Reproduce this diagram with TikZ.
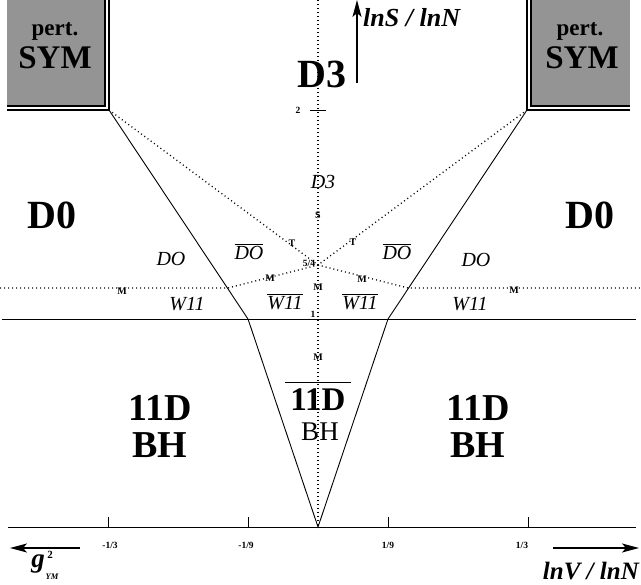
\documentclass[tikz,border=0pt]{standalone}
\usepackage{fontspec}
\setmainfont{Liberation Serif}
\usetikzlibrary{arrows.meta}
\newcommand\fs[1]{\fontsize{#1}{#1}\selectfont}
\newcommand\ovl[3]{\vbox{\hrule height #1\kern #2\hbox{#3}}}
\begin{document}
\begin{tikzpicture}[x=1pt,y=-1pt,
  sline/.style={line width=0.9pt},
  dots/.style={line width=1.3pt, dash pattern=on 1pt off 3pt},
  bigb/.style={font=\fs{40}\bfseries, inner sep=0},
  bhb/.style={font=\fs{38}\bfseries, inner sep=0},
  itl/.style={font=\fs{20}\itshape, inner sep=0},
  tiny/.style={font=\fs{10}\bfseries, inner sep=0},
  ticklab/.style={font=\fs{9.5}\bfseries, inner sep=0},
  symbox/.style={fill=black!42, draw=none},
  axarrow/.style={line width=1.1pt, -{Stealth[length=17pt,width=9pt,inset=4pt]}},
  axlab/.style={font=\fs{25}\bfseries\itshape, inner sep=0}]
\useasboundingbox (0,0) rectangle (641,585);
% key points
\coordinate (top) at (318,0);
\coordinate (cl) at (109,110);
\coordinate (cr) at (527,110);
\coordinate (p) at (318,265);
\coordinate (ml) at (228,288);
\coordinate (mr) at (408,288);
\coordinate (hl) at (0,288);
\coordinate (hr) at (641,288);
\coordinate (bl) at (248,319);
\coordinate (br) at (388,319);
\coordinate (sl) at (2,319);
\coordinate (sr) at (636,319);
\coordinate (o) at (318,527);
\coordinate (ax0) at (8,527);
\coordinate (ax1) at (636,527);
% pert SYM boxes
\fill[symbox] (7,0) rectangle (104,105);
\draw[line width=1.2pt] (105,0) -- (105,106) -- (7,106);
\draw[line width=1.6pt] (109,0) -- (109,110) -- (7,110);
\fill[symbox] (532,0) rectangle (630,105);
\draw[line width=1.2pt] (531,0) -- (531,106) -- (630,106);
\draw[line width=1.6pt] (527,0) -- (527,110) -- (630,110);
\node[font=\fs{23}\bfseries, inner sep=0] (pl) at (55,31) {pert.};
\node[font=\fs{33}\bfseries, inner sep=0] (sl1) at (55,58) {SYM};
\node[font=\fs{23}\bfseries, inner sep=0] (pr) at (580,31) {pert.};
\node[font=\fs{33}\bfseries, inner sep=0] (sr1) at (582,58) {SYM};
% dotted lines
\draw[dots] (top) -- (o);
\draw[dots] (cl) -- (p) -- (ml) -- (hl);
\draw[dots] (cr) -- (p) -- (mr) -- (hr);
% solid lines
\draw[sline] (cl) -- (bl) -- (o) -- (br) -- (cr);
\draw[sline] (sl) -- (sr);
\draw[sline] (ax0) -- (ax1);
% ticks
\foreach \x/\l/\lx in {108/-1\slash 3/110, 248/-1\slash 9/246, 388/1\slash 9/388, 528/1\slash 3/522}{
  \draw[sline] (\x,517) -- (\x,527);
  \node[ticklab] at (\lx,545) {\l};
}
\draw[sline] (310,110) -- (326,110);
\node[ticklab] (two) at (298,110) {2};
% axis arrows
\coordinate (la0) at (80,548); \coordinate (la1) at (10,548);
\coordinate (ra0) at (553,548); \coordinate (ra1) at (639,548);
\coordinate (ua0) at (357,83); \coordinate (ua1) at (357,0);
\draw[axarrow] (la0) -- (la1);
\draw[axarrow] (ra0) -- (ra1);
\draw[axarrow] (ua0) -- (ua1);
\node[axlab, anchor=east] (lnv) at (639,571) {lnV / lnN};
\node[axlab, anchor=west, font=\fs{26}\bfseries\itshape] (lns) at (363,18) {lnS / lnN};
\node[axlab, font=\fs{27}\bfseries\itshape] (g) at (38,564) {g};
\node[inner sep=0, font=\fs{11}\bfseries] (g2) at (50,555) {2};
\node[inner sep=0, font=\fs{8.5}\bfseries\itshape] (gym) at (52,577) {YM};
% big labels
\node[bigb] (d3) at (322,74) {D3};
\node[bigb] (d0l) at (52,215) {D0};
\node[bigb] (d0r) at (590,215) {D0};
\node[bhb] (bhl1) at (160,408) {11D};
\node[bhb] (bhl2) at (160,445) {BH};
\node[bhb] (bhr1) at (478,408) {11D};
\node[bhb] (bhr2) at (478,445) {BH};
\node[inner sep=0, font=\fs{33}\bfseries] (bhc) at (318,396) {\ovl{1.3pt}{5pt}{\,11D\,}};
\node[inner sep=0, font=\fs{27}] (bhc2) at (320,432) {BH};
% italic labels
\node[itl] (d3i) at (323,182) {D3};
\node[itl] (dol) at (171,259) {DO};
\node[itl] (dor) at (476,260) {DO};
\node[itl] (dobl) at (249,252) {\ovl{0.8pt}{2pt}{DO}};
\node[itl] (dobr) at (397,252) {\ovl{0.8pt}{2pt}{DO}};
\node[itl] (wl) at (187,304) {W11};
\node[itl] (wr) at (470,304) {W11};
\node[itl] (wbl) at (285,302) {\ovl{0.8pt}{2pt}{W11}};
\node[itl] (wbr) at (360,302) {\ovl{0.8pt}{2pt}{W11}};
% small markers
\node[tiny] (s) at (318,215) {S};
\node[tiny] (t1) at (292,243) {T};
\node[tiny] (t2) at (353,242) {T};
\node[ticklab] (fq) at (309,263) {5/4};
\node[tiny] (m1) at (270,278) {M};
\node[tiny] (m2) at (362,279) {M};
\node[tiny] (m3) at (318,287) {M};
\node[tiny] (m4) at (122,291) {M};
\node[tiny] (m5) at (514,290) {M};
\node[tiny] (m6) at (318,357) {M};
\node[ticklab] (one) at (313,314) {1};
\end{tikzpicture}
\end{document}
